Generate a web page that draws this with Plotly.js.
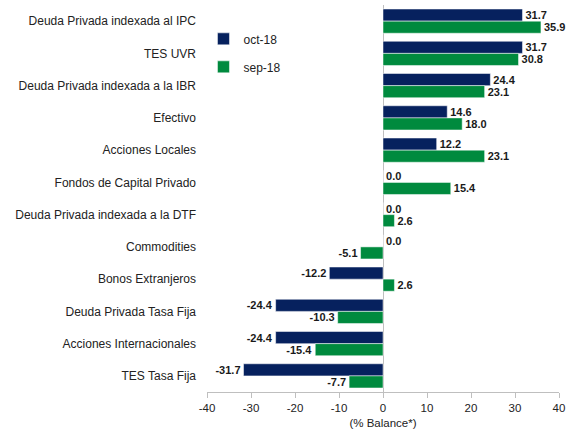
<!DOCTYPE html>
<html><head><meta charset="utf-8">
<script src="https://cdn.plot.ly/plotly-3.0.1.min.js"></script>
<style>body{margin:0;padding:0;background:#fff}#c{width:576px;height:437px}</style>
</head><body><div id="c"></div>
<script>
const categories = ["Deuda Privada indexada al IPC","TES UVR","Deuda Privada indexada a la IBR","Efectivo","Acciones Locales","Fondos de Capital Privado","Deuda Privada indexada a la DTF","Commodities","Bonos Extranjeros","Deuda Privada Tasa Fija","Acciones Internacionales","TES Tasa Fija"];
const oct18 = [31.7,31.7,24.4,14.6,12.2,0.0,0.0,0.0,-12.2,-24.4,-24.4,-31.7];
const sep18 = [35.9,30.8,23.1,18.0,23.1,15.4,2.6,-5.1,2.6,-10.3,-15.4,-7.7];
const xTicks = [-40,-30,-20,-10,0,10,20,30,40];

const lbl = {family:"Liberation Sans, Arial, sans-serif", size:11, color:"#1a1a1a", weight:"bold"};
function tr(name, vals, color){
  return {type:"bar", orientation:"h", name:name, y:categories, x:vals, legendgroup:name,
    marker:{color:color, line:{color:"#ffffff", width:0.5}},
    text:vals.map(v=>v.toFixed(1)), textposition:"outside", cliponaxis:false, constraintext:"none",
    textfont:lbl, hoverinfo:"x+y"};
}
const data = [tr("oct-18", oct18, "#06215e"), tr("sep-18", sep18, "#008a3e")];
const layout = {
  width:576, height:437,
  margin:{l:207, r:17, t:5, b:45},
  paper_bgcolor:"#fff", plot_bgcolor:"#fff",
  font:{family:"Liberation Sans, Arial, sans-serif", size:11.5, color:"#222"},
  barmode:"group", bargap:0.25, bargroupgap:0,
  showlegend:true,
  legend:{x:-0.01, y:0.95, xanchor:"left", yanchor:"top", traceorder:"grouped", tracegroupgap:9,
    font:{size:12, color:"#222"}, itemwidth:30, bgcolor:"rgba(0,0,0,0)"},
  xaxis:{range:[-40,40], tickvals:xTicks, ticktext:xTicks.map(String), showgrid:false,
    zeroline:true, zerolinecolor:"#bfbfbf", zerolinewidth:1,
    showline:true, linecolor:"#bfbfbf", linewidth:1, ticks:"outside", ticklen:5, tickcolor:"#bfbfbf",
    title:{text:"(% Balance*)", standoff:6, font:{size:11.5, color:"#222"}},
    tickfont:{size:11.5, color:"#222"}},
  yaxis:{autorange:"reversed", showgrid:false, zeroline:false, showline:false, ticks:"",
    ticklabelstandoff:10, tickfont:{size:12, color:"#222"}}
};
Plotly.newPlot("c", data, layout, {displayModeBar:false, staticPlot:true});
</script></body></html>
